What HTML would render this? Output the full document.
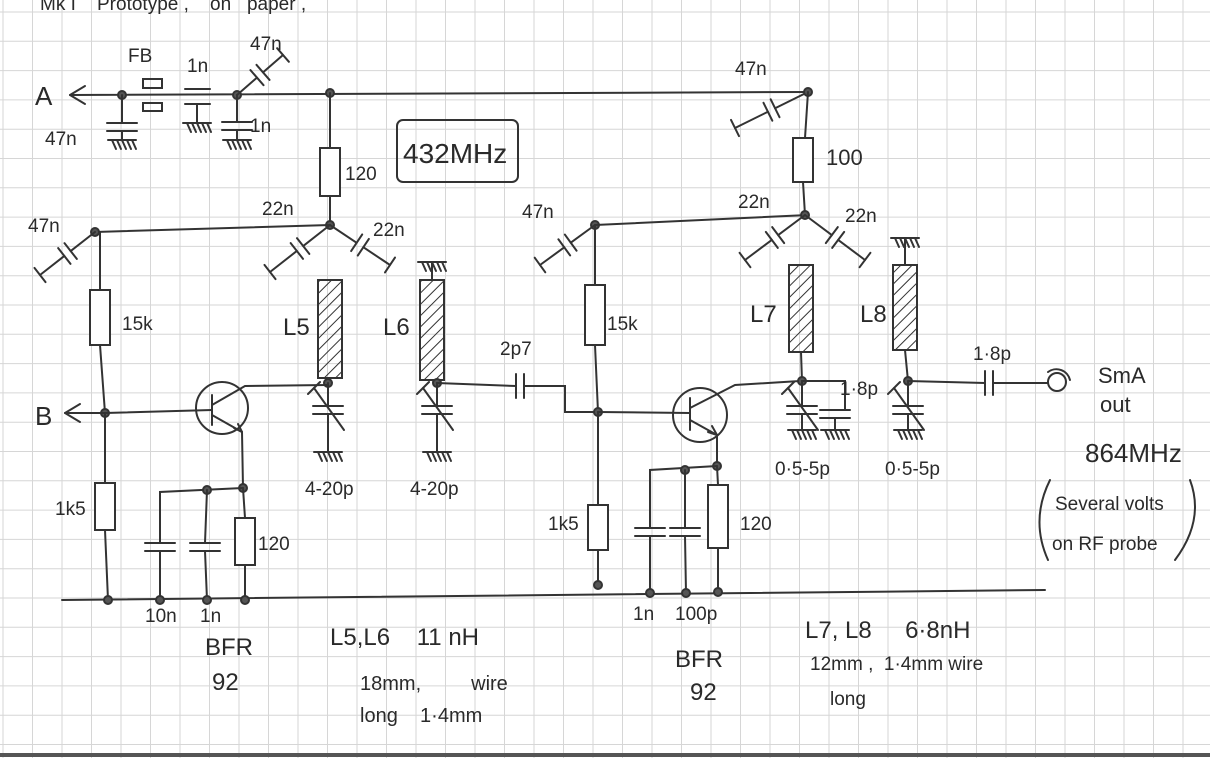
<!DOCTYPE html>
<html><head><meta charset="utf-8"><style>
html,body{margin:0;padding:0;background:#fff;width:1210px;height:758px;overflow:hidden}
svg{display:block}
text{font-family:"Liberation Sans",sans-serif;fill:#2a2a2a;white-space:pre}
</style></head><body>
<svg id="s" width="1210" height="758" xmlns="http://www.w3.org/2000/svg">
<defs><pattern id="h" width="8" height="8" patternUnits="userSpaceOnUse" patternTransform="rotate(45)"><line x1="0" y1="0" x2="0" y2="8" stroke="#333" stroke-width="2"/></pattern></defs>
<g id="grid" stroke="#d6d6d6" stroke-width="1"></g>
<g id="w" stroke="#333" stroke-width="2" fill="none" stroke-linecap="round"></g>
<g id="t" font-size="20"></g>
</svg>
<script>
var g=document.getElementById('grid'),w=document.getElementById('w'),t=document.getElementById('t');
var s='';for(var x=3;x<1210;x+=29.5)s+='<line x1="'+x+'" y1="0" x2="'+x+'" y2="758"/>';
for(var y=12;y<758;y+=29.3)s+='<line x1="0" y1="'+y+'" x2="1210" y2="'+y+'"/>';g.innerHTML=s;
var o='';
function L(p){o+='<polyline points="'+p+'"/>';}
function N(x,y){o+='<circle cx="'+x+'" cy="'+y+'" r="4" fill="#555"/>';}
function R(x,y1,y2){o+='<rect x="'+(x-10)+'" y="'+y1+'" width="20" height="'+(y2-y1)+'" fill="#fff"/>';}
function I(x,y1,y2){o+='<rect x="'+(x-12)+'" y="'+y1+'" width="24" height="'+(y2-y1)+'" fill="url(#h)"/>';}
function C(x,y){o+='<line x1="'+(x-15)+'" y1="'+y+'" x2="'+(x+15)+'" y2="'+y+'"/><line x1="'+(x-15)+'" y1="'+(y+8)+'" x2="'+(x+15)+'" y2="'+(y+8)+'"/>';}
function G(x,y){o+='<line x1="'+(x-14)+'" y1="'+y+'" x2="'+(x+14)+'" y2="'+y+'"/>';for(var i=-10;i<=10;i+=5)o+='<line x1="'+(x+i)+'" y1="'+y+'" x2="'+(x+i+4)+'" y2="'+(y+9)+'"/>';}
function VC(x,y){C(x,y);o+='<line x1="'+(x-14)+'" y1="'+(y-18)+'" x2="'+(x+16)+'" y2="'+(y+24)+'"/><line x1="'+(x-20)+'" y1="'+(y-12)+'" x2="'+(x-8)+'" y2="'+(y-24)+'"/>';}
function DC(x1,y1,x2,y2){var mx=(x1+x2)/2,my=(y1+y2)/2,dx=x2-x1,dy=y2-y1,l=Math.hypot(dx,dy),ux=dx/l,uy=dy/l,px=-uy,py=ux;
L(x1+','+y1+' '+(mx-ux*4)+','+(my-uy*4));L((mx+ux*4)+','+(my+uy*4)+' '+x2+','+y2);
for(var k of [-4,4])o+='<line x1="'+(mx+ux*k-px*10)+'" y1="'+(my+uy*k-py*10)+'" x2="'+(mx+ux*k+px*10)+'" y2="'+(my+uy*k+py*10)+'"/>';
o+='<line x1="'+(x2-px*9)+'" y1="'+(y2-py*9)+'" x2="'+(x2+px*9)+'" y2="'+(y2+py*9)+'"/>';}
L('70,95 808,92');L('70,95 85,86');L('70,95 85,104');
N(122,95);L('122,95 122,123');C(122,123);L('122,131 122,140');G(122,140);
o+='<rect x="143" y="79" width="19" height="9"/><rect x="143" y="103" width="19" height="8"/>';
o+='<line x1="185" y1="89" x2="210" y2="89"/><line x1="185" y1="104" x2="210" y2="104"/>';L('197,104 197,123');G(197,123);
N(237,95);DC(237,95,283,55);L('237,95 237,122');C(237,122);L('237,130 237,140');G(237,140);
N(330,93);L('330,93 330,148');R(330,148,196);L('330,196 330,225');
o+='<rect x="397" y="120" width="121" height="62" rx="6"/>';
N(330,225);L('330,225 95,232');N(95,232);DC(95,232,40,275);DC(330,225,270,272);DC(330,225,390,265);
I(330,280,378);L('330,378 328,383');N(328,383);L('328,383 328,406');VC(328,406);L('328,414 328,452');G(328,452);
L('100,232 100,290');R(100,290,345);L('100,345 105,413');N(105,413);L('105,413 65,413');L('65,413 80,404');L('65,413 80,422');
L('105,413 105,483');R(105,483,530);L('105,530 108,600');
L('62,600 1045,590');
o+='<circle cx="222" cy="408" r="26"/>';L('105,413 212,410');L('212,395 212,425');L('212,405 245,386 328,385');L('212,415 242,432');L('242,432 234,428');L('242,432 238,424');
L('242,432 243,488');N(243,488);L('243,488 160,492 160,543');N(207,490);L('207,490 205,543');C(160,543);C(205,543);L('160,551 160,600');L('205,551 207,600');
L('243,488 245,518');R(245,518,565);L('245,565 245,600');N(108,600);N(160,600);N(207,600);N(245,600);
L('432,262 432,280');G(432,262);I(432,280,380);L('432,380 437,383');N(437,383);L('437,383 437,406');VC(437,406);L('437,414 437,452');G(437,452);
L('437,383 516,386');o+='<line x1="516" y1="374" x2="516" y2="398"/><line x1="524" y1="374" x2="524" y2="398"/>';L('524,386 565,386 565,412 598,412');
N(595,225);L('595,225 808,215');DC(595,225,540,265);L('595,225 595,285');R(595,285,345);L('595,345 598,412');N(598,412);
L('598,412 598,505');R(598,505,550);L('598,550 598,585');N(598,585);
o+='<circle cx="700" cy="415" r="27"/>';L('598,412 690,413');L('690,398 690,430');L('690,408 735,385 800,381');L('690,420 717,435');L('717,435 708,432');L('717,435 712,426');
L('717,435 717,466');N(717,466);L('717,466 650,470 650,528');N(685,470);L('685,470 685,528');C(650,528);C(685,528);L('650,536 650,593');L('685,536 686,593');
L('717,466 718,485');R(718,485,548);L('718,548 718,592');N(650,593);N(686,593);N(718,592);
DC(808,92,735,128);N(808,92);L('808,92 805,138');R(803,138,182);L('803,182 805,215');N(805,215);DC(805,215,745,260);DC(805,215,865,260);
I(801,265,352);L('801,352 802,381');N(802,381);L('802,381 845,381 845,410');L('802,381 802,406');VC(802,406);L('802,414 802,430');G(802,430);C(835,410);L('835,418 835,430');G(835,430);
G(905,238);L('905,238 905,265');I(905,265,350);L('905,350 908,381');N(908,381);L('908,381 908,406');VC(908,406);L('908,414 908,430');G(908,430);
L('908,381 985,383');o+='<line x1="985" y1="371" x2="985" y2="395"/><line x1="993" y1="371" x2="993" y2="395"/>';L('993,383 1048,383');
o+='<circle cx="1057" cy="382" r="9"/><path d="M1048 372 A14 14 0 0 1 1070 380"/>';
o+='<path d="M1050 480 Q1030 520 1048 560"/><path d="M1190 480 Q1205 520 1175 560"/>';
o+='<line x1="0" y1="755" x2="1210" y2="755" stroke="#555" stroke-width="4"/>';
w.innerHTML=o;
var tx=[[40,10,'Mk I    Prototype ,    on   paper ,'],[128,62,'FB'],[187,72,'1n'],[250,50,'47n'],[35,105,'A',26],[45,145,'47n'],[250,132,'1n'],[345,180,'120'],[403,163,'432MHz',28],
[28,232,'47n'],[262,215,'22n'],[373,236,'22n'],[122,330,'15k'],[35,425,'B',26],[55,515,'1k5'],[258,550,'120'],[145,622,'10n'],[200,622,'1n'],[205,655,'BFR',24],[212,690,'92',24],
[283,335,'L5',24],[383,335,'L6',24],[305,495,'4-20p'],[410,495,'4-20p'],[500,355,'2p7'],[522,218,'47n'],[607,330,'15k'],[548,530,'1k5'],[740,530,'120'],
[633,620,'1n'],[675,620,'100p'],[675,667,'BFR',24],[690,700,'92',24],[735,75,'47n'],[826,165,'100',22],[738,208,'22n'],[845,222,'22n'],[750,322,'L7',24],[860,322,'L8',24],
[840,395,'1·8p'],[775,475,'0·5-5p'],[885,475,'0·5-5p'],[973,360,'1·8p'],[1098,383,'SmA',22],[1100,412,'out',22],[1085,462,'864MHz',26],[1055,510,'Several volts'],[1052,550,'on RF probe'],
[330,645,'L5,L6    11 nH',24],[360,690,'18mm,         wire',20],[360,722,'long    1·4mm',20],[805,638,'L7, L8     6·8nH',24],[810,670,'12mm ,  1·4mm wire'],[830,705,'long']];
var q='';tx.forEach(function(a){q+='<text x="'+a[0]+'" y="'+a[1]+'" font-size="'+(a[3]||19)+'">'+a[2]+'</text>';});t.innerHTML=q;
</script>
</body></html>
